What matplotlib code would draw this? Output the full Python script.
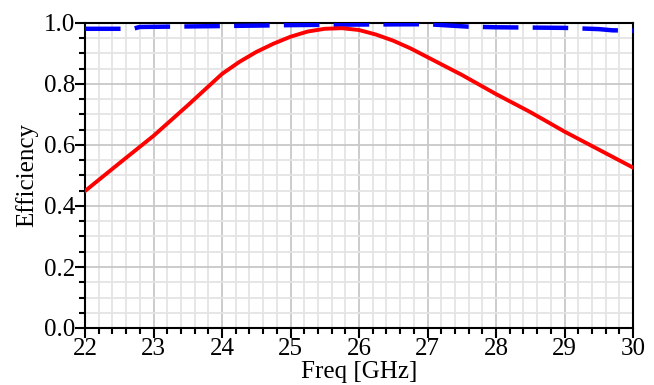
import matplotlib.pyplot as plt
from matplotlib.ticker import MultipleLocator

plt.rcParams['font.family'] = ['Liberation Serif', 'DejaVu Serif']

# red curve (efficiency)
freq_red = [22.0, 22.5, 23.0, 23.5, 24.0, 24.25, 24.5, 24.75, 25.0, 25.25, 25.5,
            25.75, 26.0, 26.25, 26.5, 26.75, 27.0, 27.5, 28.0, 28.5, 29.0, 29.5, 30.0]
eff_red = [0.449, 0.54, 0.63, 0.73, 0.833, 0.872, 0.905, 0.932, 0.955, 0.972, 0.981,
           0.983, 0.977, 0.962, 0.942, 0.917, 0.888, 0.83, 0.767, 0.708, 0.644, 0.585, 0.526]

# blue dashed curve
freq_blue = [22.0, 22.7, 22.8, 24.0, 25.0, 26.0, 27.0, 27.6, 28.0, 29.0, 29.5, 29.7, 30.0]
eff_blue = [0.981, 0.981, 0.987, 0.99, 0.993, 0.995, 0.996, 0.988, 0.986, 0.984, 0.98, 0.976, 0.975]

fig = plt.figure(figsize=(6.54, 3.85), dpi=100)
ax = fig.add_axes([85 / 654, 57 / 385, 548 / 654, 305 / 385])

ax.plot(freq_blue, eff_blue, color='#0000ff', lw=3.2, dashes=(8, 3.2), zorder=3)
ax.plot(freq_red, eff_red, color='#ff0000', lw=2.8, zorder=4)

ax.set_xlim(22, 30)
ax.set_ylim(0, 1)
ax.xaxis.set_major_locator(MultipleLocator(1))
ax.xaxis.set_minor_locator(MultipleLocator(0.2))
ax.yaxis.set_major_locator(MultipleLocator(0.2))
ax.yaxis.set_minor_locator(MultipleLocator(0.05))
ax.yaxis.set_major_formatter(plt.FormatStrFormatter('%.1f'))

ax.grid(which='major', color='#c8c8c8', lw=1.3)
ax.grid(which='minor', color='#e4e4e4', lw=1.3)
ax.set_axisbelow(True)

for s in ax.spines.values():
    s.set_linewidth(1.5)
ax.tick_params(which='both', direction='out', width=1.5, labelsize=18,
               top=False, right=False)
ax.tick_params(which='major', length=7)
ax.tick_params(which='minor', length=4)
ax.tick_params(axis='x', pad=0)
ax.tick_params(axis='y', pad=0)

ax.set_xlabel('Freq [GHz]', fontsize=18, labelpad=1)
ax.set_ylabel('Efficiency', fontsize=18, labelpad=4)

fig.savefig('out.png', dpi=100)
